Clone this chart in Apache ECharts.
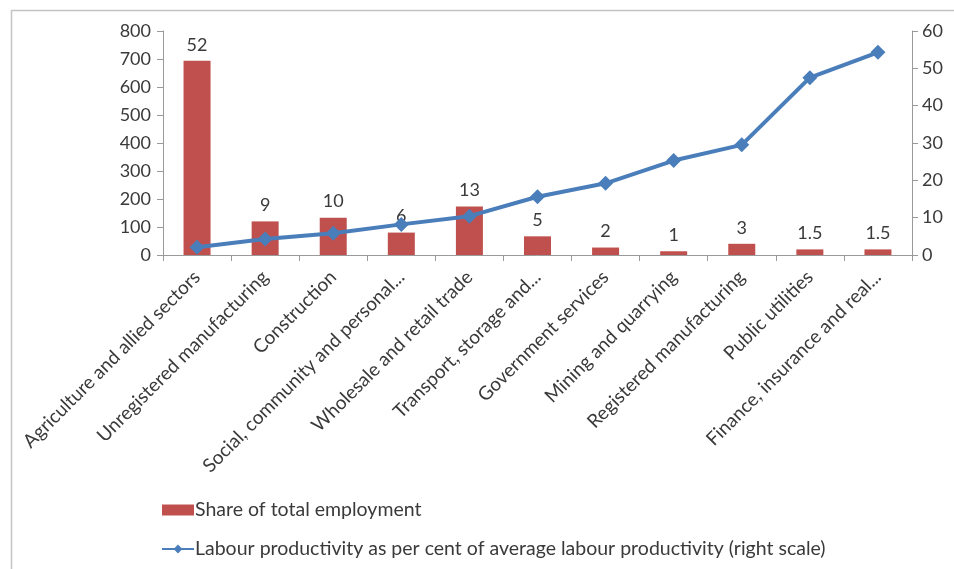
<!DOCTYPE html>
<html>
<head>
<meta charset="utf-8">
<script src="https://cdn.jsdelivr.net/npm/echarts@6/dist/echarts.min.js"></script>
<style>
  html, body { margin: 0; padding: 0; background: #fff; }
  #chart { width: 954px; height: 569px; }
</style>
</head>
<body>
<div id="chart"></div>
<script>
// Sectors, ordered by labour productivity
const sectors = [
  'Agriculture and allied sectors',
  'Unregistered manufacturing',
  'Construction',
  'Social, community and personal...',
  'Wholesale and retail trade',
  'Transport, storage and...',
  'Government services',
  'Mining and quarrying',
  'Registered manufacturing',
  'Public utilities',
  'Finance, insurance and real...'
];

// Share of total employment (per cent)
const employmentShare = [52, 9, 10, 6, 13, 5, 2, 1, 3, 1.5, 1.5];

// Labour productivity as per cent of average labour productivity
const productivity = [2.1, 4.3, 5.8, 8.2, 10.4, 15.6, 19.2, 25.3, 29.5, 47.5, 54.3];

// Axis ranges
const leftAxisMax = 800;
const leftAxisStep = 100;
const rightAxisMax = 60;
const rightAxisStep = 10;

const FONT = 'Lato';
const TEXT = '#3a3a3a';
const AXIS = '#9a9a9a';

const chart = echarts.init(document.getElementById('chart'), null, { renderer: 'canvas' });

chart.setOption({
  animation: false,
  backgroundColor: '#ffffff',
  textStyle: { fontFamily: FONT },
  graphic: [{
    type: 'rect',
    left: 9, top: 8,
    shape: { width: 990, height: 620 },
    style: { fill: 'none', stroke: '#c4c4c4', lineWidth: 1.5 },
    silent: true
  }],
  grid: { left: 163, right: 42, top: 31, bottom: 314, containLabel: false },
  legend: {
    orient: 'vertical',
    left: 156,
    top: 495,
    itemGap: 19,
    itemWidth: 32,
    itemHeight: 11,
    textStyle: { fontFamily: FONT, fontSize: 19.5, color: TEXT, padding: [0, 0, 0, -4] },
    data: [
      { name: 'Share of total employment', icon: 'rect' },
      { name: 'Labour productivity as per cent of average labour productivity (right scale)' }
    ]
  },
  xAxis: {
    type: 'category',
    data: sectors,
    axisLine: { lineStyle: { color: AXIS, width: 1 } },
    axisTick: { show: true, alignWithLabel: false, length: 6, lineStyle: { color: AXIS } },
    axisLabel: {
      interval: 0,
      rotate: 45,
      margin: 19,
      fontFamily: FONT,
      fontSize: 19,
      color: TEXT
    },
    splitLine: { show: false }
  },
  yAxis: [
    {
      type: 'value',
      min: 0, max: leftAxisMax, interval: leftAxisStep,
      position: 'left',
      axisLine: { show: true, lineStyle: { color: AXIS } },
      axisTick: { show: true, length: 6, lineStyle: { color: AXIS } },
      axisLabel: { fontFamily: FONT, fontSize: 18, color: TEXT, margin: 12 },
      splitLine: { show: false }
    },
    {
      type: 'value',
      min: 0, max: rightAxisMax, interval: rightAxisStep,
      position: 'right',
      axisLine: { show: true, lineStyle: { color: AXIS } },
      axisTick: { show: true, length: 6, lineStyle: { color: AXIS } },
      axisLabel: { fontFamily: FONT, fontSize: 18, color: TEXT, margin: 10 },
      splitLine: { show: false }
    }
  ],
  series: [
    {
      name: 'Share of total employment',
      type: 'bar',
      yAxisIndex: 1,
      data: employmentShare,
      barWidth: 27,
      itemStyle: { color: '#c0504d' },
      label: {
        show: true,
        position: 'top',
        distance: 7,
        fontFamily: FONT,
        fontSize: 18,
        color: TEXT
      },
      z: 2
    },
    {
      name: 'Labour productivity as per cent of average labour productivity (right scale)',
      type: 'line',
      yAxisIndex: 1,
      data: productivity,
      symbol: 'diamond',
      symbolSize: 15,
      lineStyle: { color: '#4a7ebb', width: 4 },
      itemStyle: { color: '#4a7ebb' },
      z: 3
    }
  ]
});
</script>
</body>
</html>
